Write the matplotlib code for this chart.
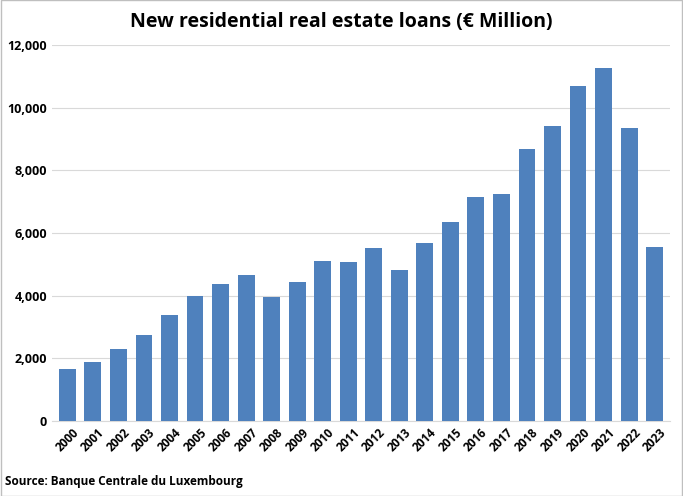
import matplotlib.pyplot as plt

years = [str(y) for y in range(2000, 2024)]
loans = [1660, 1880, 2300, 2745, 3380, 3990, 4370, 4660, 3960, 4440,
         5100, 5070, 5520, 4820, 5680, 6350, 7150, 7240, 8680, 9410,
         10690, 11260, 9350, 5550]

plt.rcParams['font.family'] = ['Open Sans', 'DejaVu Sans']

fig = plt.figure(figsize=(6.83, 4.96), dpi=100)
ax = fig.add_axes([52 / 683, 75 / 496, 618 / 683, 376 / 496])

ax.bar(years, loans, width=0.66, color='#4f81bd', zorder=3)
ax.set_ylim(0, 12000)
ax.set_xlim(-0.6, len(years) - 0.4)
ax.set_yticks(range(0, 12001, 2000))
ax.set_yticklabels([f"{v:,}" for v in range(0, 12001, 2000)], fontsize=9, fontweight='bold')
ax.tick_params(axis='x', labelrotation=45, labelsize=8.5, length=0)
for lbl in ax.get_xticklabels():
    lbl.set_fontweight('bold')
    lbl.set_ha('center')
ax.tick_params(axis='y', length=0)
ax.grid(axis='y', color='#d9d9d9', linewidth=0.8, zorder=0)
for s in ['top', 'right', 'left']:
    ax.spines[s].set_visible(False)
ax.spines['bottom'].set_color('#d9d9d9')

fig.text(0.5, 0.955, "New residential real estate loans (€ Million)",
         ha='center', va='center', fontsize=14, fontweight='bold')
fig.text(0.008, 0.03, "Source: Banque Centrale du Luxembourg",
         ha='left', va='center', fontsize=8.5, fontweight='bold')
fig.patches.append(plt.Rectangle((0.001, 0.001), 0.998, 0.998, transform=fig.transFigure,
                                 fill=False, edgecolor='#bfbfbf', linewidth=1))

fig.savefig('out.png', dpi=100)
